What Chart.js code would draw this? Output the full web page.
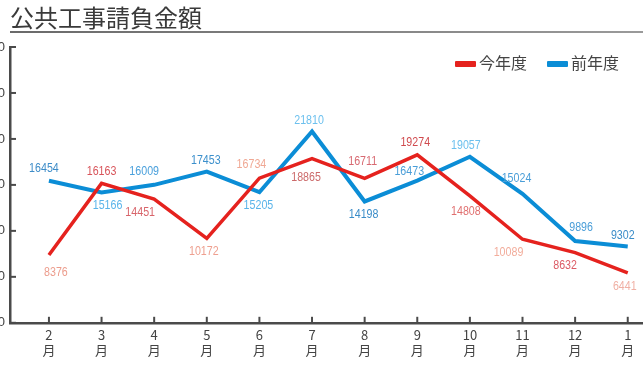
<!DOCTYPE html>
<html>
<head>
<meta charset="utf-8">
<script src="https://cdn.jsdelivr.net/npm/chart.js@4.4.1/dist/chart.umd.min.js"></script>
<style>
    html, body { margin: 0; padding: 0; background: #fff; }
    #wrap { position: relative; width: 643px; height: 371px; overflow: hidden; }
    #title {
        position: absolute; left: 10px; top: 4px;
        font-family: 'Noto Sans CJK JP', sans-serif; font-size: 24px; line-height: 26px;
        color: #3a3a3a; white-space: nowrap;
    }
    #rule {
        position: absolute; left: 10px; top: 31px; width: 633px; height: 2px;
        background: linear-gradient(to right, #6a6a6a, #9a9a9a);
    }
    #legend {
        position: absolute; left: 455px; top: 51px;
        font-family: 'Noto Sans CJK JP', sans-serif; font-size: 16px; line-height: 22px; color: #444;
        white-space: nowrap;
    }
    #legend .item { display: inline-block; margin-right: 20px; }
    #legend .bar { display: inline-block; width: 21px; height: 6px; border-radius: 1px; vertical-align: middle; margin-right: 3px; position: relative; top: -1px; }
    canvas { position: absolute; left: 0; top: 0; }
</style>
</head>
<body>
<div id="wrap">
    <canvas id="chart" width="643" height="371"></canvas>
    <div id="title">公共工事請負金額</div>
    <div id="rule"></div>
    <div id="legend"></div>
</div>
<script>
// Data
const months = ['2', '3', '4', '5', '6', '7', '8', '9', '10', '11', '12', '1'];
const thisYear = [8376, 16163, 14451, 10172, 16734, 18865, 16711, 19274, 14808, 10089, 8632, 6441];
const lastYear = [16454, 15166, 16009, 17453, 15205, 21810, 14198, 16473, 19057, 15024, 9896, 9302];
const yMin = 1000;
const yMax = 31000;
const yStep = 5000;

// Where each value label sits relative to its point [dx, dy]
const thisYearLabelPos = [[7, 17], [0, -12], [-14, 13], [-3, 13], [-8, -14], [-6, 19], [-2, -17], [-2, -12], [-4, 16], [-14, 13], [-10, 13], [-3, 14]];
const lastYearLabelPos = [[-5, -12], [6, 13], [-10, -13], [-1, -11], [-1, 13], [-3, -11], [-1, 13], [-8, -9], [-4, -11], [-6, -15], [6, -14], [-5, -11]];

const RED = '#e5221e';
const BLUE = '#0b8dd6';
const AXIS = '#4a4a4a';
const numFont = "'Liberation Sans', 'DejaVu Sans', sans-serif";

function toPoints(values) {
    return values.map((v, i) => ({ x: i, y: v }));
}

// Draws inward tick marks, y labels and value labels
const decorations = {
    id: 'decorations',
    afterDatasetsDraw(chart) {
        const ctx = chart.ctx;
        const xs = chart.scales.x;
        const ys = chart.scales.y;
        const area = chart.chartArea;
        ctx.save();
        ctx.strokeStyle = AXIS;
        ctx.lineWidth = 2;
        xs.ticks.forEach(t => {
            const px = xs.getPixelForValue(t.value);
            ctx.beginPath();
            ctx.moveTo(px, area.bottom);
            ctx.lineTo(px, area.bottom - 6);
            ctx.stroke();
        });
        ctx.font = '13px ' + numFont;
        ctx.fillStyle = '#444';
        ctx.textAlign = 'right';
        ctx.textBaseline = 'middle';
        ys.ticks.forEach(t => {
            const py = ys.getPixelForValue(t.value);
            ctx.beginPath();
            ctx.moveTo(area.left, py);
            ctx.lineTo(area.left + 6, py);
            ctx.stroke();
            ctx.fillText(String(t.value), area.left - 5, py);
        });

        // value labels, squeezed a little like the narrow face in the original
        ctx.textAlign = 'center';
        ctx.font = '13px ' + numFont;
        chart.data.datasets.forEach((ds, di) => {
            const meta = chart.getDatasetMeta(di);
            meta.data.forEach((pt, i) => {
                const off = ds.labelPos[i];
                ctx.save();
                ctx.translate(pt.x + off[0], pt.y + off[1]);
                ctx.scale(0.82, 1);
                ctx.fillStyle = ds.labelColors[i % ds.labelColors.length];
                ctx.fillText(String(ds.data[i].y), 0, 0);
                ctx.restore();
            });
        });
        ctx.restore();
    }
};

const chart = new Chart(document.getElementById('chart'), {
    type: 'line',
    data: {
        datasets: [
            {
                label: '今年度',
                data: toPoints(thisYear),
                borderColor: RED,
                backgroundColor: RED,
                borderWidth: 3.5,
                pointRadius: 0,
                tension: 0,
                labelPos: thisYearLabelPos,
                labelColors: ['#ec9c8c', '#d8545a', '#d8646a', '#eea090', '#f0a894', '#cc6a6a', '#d86a72', '#d04a4e', '#e07070', '#f2ad9c', '#dc5a64', '#f0b0a4']
            },
            {
                label: '前年度',
                data: toPoints(lastYear),
                borderColor: BLUE,
                backgroundColor: BLUE,
                borderWidth: 4,
                pointRadius: 0,
                tension: 0,
                labelPos: lastYearLabelPos,
                labelColors: ['#3d8cc8', '#5ab4ea', '#4aa0dc', '#3c90cc', '#5ab4ea', '#6cc0ee', '#3a8cc8', '#4a9ed8', '#6cc0ee', '#4a9ed8', '#4a9ed8', '#3a8cc8']
            }
        ]
    },
    options: {
        responsive: false,
        animation: false,
        layout: { padding: { left: 10, right: 0, top: 47, bottom: 9 } },
        plugins: {
            legend: { display: false },
            tooltip: { enabled: false }
        },
        scales: {
            x: {
                type: 'linear',
                min: -0.74,
                max: 11.29,
                grid: { display: false, drawTicks: false },
                border: { display: true, color: AXIS, width: 2.5 },
                ticks: {
                    stepSize: 1,
                    includeBounds: false,
                    autoSkip: false,
                    maxRotation: 0,
                    padding: 4,
                    color: '#444',
                    font: { family: "'Noto Sans CJK JP', sans-serif", size: 13, lineHeight: 1.2 },
                    callback: (v) => (Number.isInteger(v) && months[v] !== undefined) ? [months[v], '月'] : ''
                }
            },
            y: {
                min: yMin,
                max: yMax,
                grid: { display: false, drawTicks: false },
                border: { display: true, color: AXIS, width: 2.5 },
                ticks: { stepSize: yStep, display: false }
            }
        }
    },
    plugins: [decorations]
});

// Legend built from the datasets
const legend = document.getElementById('legend');
chart.data.datasets.forEach(ds => {
    const item = document.createElement('span');
    item.className = 'item';
    item.innerHTML = '<span class="bar" style="background:' + ds.borderColor + '"></span>' + ds.label;
    legend.appendChild(item);
});
</script>
</body>
</html>
